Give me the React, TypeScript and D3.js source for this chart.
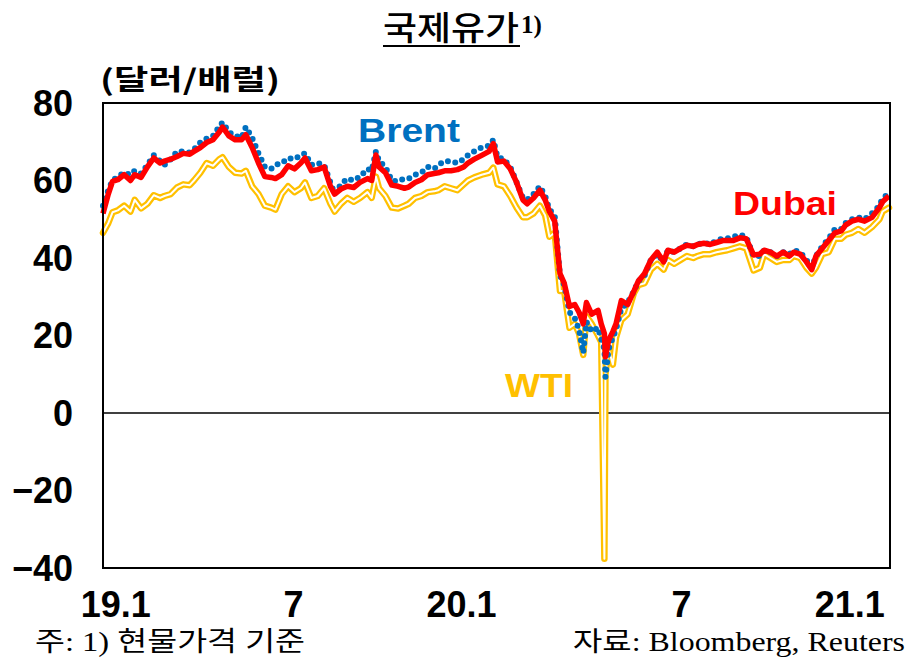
import React from "react";
import * as d3 from "d3";

const dates = [
  "2019-01-02","2019-01-07","2019-01-11","2019-01-16","2019-01-22","2019-01-28","2019-02-01","2019-02-07","2019-02-13","2019-02-19",
  "2019-02-25","2019-03-01","2019-03-07","2019-03-13","2019-03-19","2019-03-25","2019-03-29","2019-04-04","2019-04-10","2019-04-16",
  "2019-04-22","2019-04-25","2019-05-01","2019-05-07","2019-05-13","2019-05-17","2019-05-23","2019-05-29","2019-06-04","2019-06-10",
  "2019-06-14","2019-06-20","2019-06-26","2019-07-02","2019-07-08","2019-07-12","2019-07-18","2019-07-24","2019-07-30","2019-08-05",
  "2019-08-09","2019-08-15","2019-08-21","2019-08-27","2019-09-02","2019-09-09","2019-09-13","2019-09-17","2019-09-20","2019-09-26",
  "2019-10-02","2019-10-08","2019-10-14","2019-10-18","2019-10-24","2019-10-30","2019-11-05","2019-11-11","2019-11-15","2019-11-21",
  "2019-11-27","2019-12-03","2019-12-09","2019-12-13","2019-12-19","2019-12-26","2020-01-02","2020-01-06","2020-01-10","2020-01-16",
  "2020-01-22","2020-01-28","2020-02-03","2020-02-07","2020-02-13","2020-02-19","2020-02-24","2020-02-28","2020-03-04","2020-03-09",
  "2020-03-13","2020-03-18","2020-03-23","2020-03-27","2020-03-31","2020-04-03","2020-04-08","2020-04-14","2020-04-17","2020-04-20",
  "2020-04-21","2020-04-24","2020-04-28","2020-05-01","2020-05-06","2020-05-12","2020-05-18","2020-05-22","2020-05-28","2020-06-03",
  "2020-06-09","2020-06-15","2020-06-19","2020-06-25","2020-07-01","2020-07-07","2020-07-13","2020-07-17","2020-07-23","2020-07-29",
  "2020-08-04","2020-08-10","2020-08-14","2020-08-20","2020-08-26","2020-09-01","2020-09-08","2020-09-14","2020-09-18","2020-09-24",
  "2020-09-30","2020-10-06","2020-10-12","2020-10-16","2020-10-22","2020-10-28","2020-11-02","2020-11-06","2020-11-12","2020-11-18",
  "2020-11-24","2020-11-30","2020-12-04","2020-12-10","2020-12-16","2020-12-22","2020-12-29","2021-01-05","2021-01-08","2021-01-14"
];

const dubai = [
  51.5,56.5,59.8,60.2,61.5,60.0,61.5,60.8,63.5,65.8,
  64.5,65.0,65.5,66.2,67.0,66.8,67.5,68.5,69.8,70.5,
  72.5,73.8,71.5,70.5,70.5,71.8,68.5,64.5,61.0,60.8,
  60.5,61.5,63.8,63.0,64.5,65.8,62.5,62.8,63.5,58.5,
  56.5,57.8,58.5,58.2,59.5,60.5,60.0,66.6,63.5,62.0,
  58.8,58.5,58.0,58.3,59.5,60.2,61.5,61.8,62.0,62.5,
  62.5,62.8,63.5,64.5,65.5,66.5,67.5,69.5,64.8,65.0,
  63.0,59.5,55.0,54.0,55.5,57.5,55.0,52.0,49.5,36.0,
  33.5,27.5,28.0,26.0,23.0,28.5,25.5,26.5,23.0,20.5,
  14.5,18.8,21.0,23.0,29.0,28.0,31.5,34.0,36.0,39.5,
  41.5,39.0,42.0,41.5,42.5,43.3,43.0,43.5,43.8,43.5,
  44.0,44.5,44.5,44.5,45.2,45.0,40.8,41.0,42.0,41.5,
  40.5,41.5,40.5,41.5,41.0,39.0,37.0,40.5,42.5,44.5,
  46.5,47.0,48.5,49.5,50.0,49.5,50.5,53.0,54.5,56.0
];

const brent = [
  53.5,57.5,60.0,61.0,62.0,61.5,62.5,61.8,64.0,66.5,
  65.0,64.0,65.5,67.5,67.5,67.2,68.0,69.8,70.8,71.5,
  74.0,75.0,72.5,71.5,71.0,73.8,71.0,67.0,63.5,63.0,
  64.0,64.5,65.8,65.5,66.5,67.0,64.0,64.5,64.0,59.5,
  56.5,59.0,60.5,60.0,61.0,63.0,62.5,67.5,65.0,63.5,
  60.0,59.8,60.5,60.5,61.5,62.0,63.5,63.0,64.0,65.0,
  65.0,64.5,65.5,66.5,67.5,68.5,69.0,70.5,66.0,65.5,
  63.5,59.5,55.5,55.0,56.5,58.5,56.0,52.5,51.0,35.5,
  33.0,26.0,24.5,21.5,15.5,23.5,21.0,22.0,19.0,16.5,
  9.3,16.5,19.5,21.5,27.0,28.5,31.5,34.0,35.5,39.5,
  41.0,39.0,42.0,41.5,42.5,43.5,43.0,43.5,44.0,43.5,
  44.5,45.0,45.0,45.5,46.0,45.5,40.5,40.5,42.0,41.5,
  40.5,41.5,41.0,42.0,41.5,39.5,37.5,40.5,43.0,45.0,
  47.5,47.5,49.0,50.0,50.5,50.0,51.5,53.5,55.5,56.5
];

const wti = [
  46.5,49.0,51.8,52.3,53.5,52.0,55.0,52.8,54.0,56.2,
  55.5,56.0,56.5,58.2,59.0,58.8,60.0,62.0,64.5,63.8,
  65.5,66.0,63.5,62.0,61.8,62.5,58.5,56.5,53.5,53.0,
  52.5,56.5,58.5,57.0,58.0,59.5,55.5,56.0,58.0,54.0,
  52.0,54.0,55.5,54.5,55.5,57.0,55.5,61.0,58.0,56.0,
  53.0,52.8,53.5,54.0,55.5,56.0,57.0,57.2,57.5,58.5,
  58.0,57.5,59.0,60.0,60.8,61.5,62.0,63.3,59.0,58.5,
  56.0,53.0,50.5,50.5,51.5,53.5,51.0,45.5,46.5,31.5,
  31.5,22.0,23.0,20.5,15.0,25.0,23.0,20.0,18.3,-37.6,
  10.0,16.5,12.5,19.5,24.0,25.5,31.0,33.0,33.5,37.0,
  38.5,37.0,39.5,38.5,39.5,40.5,40.0,40.5,41.0,41.0,
  41.5,41.8,42.0,42.5,43.0,42.5,36.8,37.5,41.0,40.0,
  39.0,39.5,39.5,40.5,40.0,37.5,36.0,37.5,41.0,41.5,
  45.0,45.0,46.0,46.5,47.5,46.5,48.0,50.0,52.0,53.0
];

const yTicks = [80, 60, 40, 20, 0, -20, -40];
const xTickDates = ["2019-01-14", "2019-07-01", "2019-12-07", "2020-07-02", "2020-12-08"];
const xTickLabels = ["19.1", "7", "20.1", "7", "21.1"];

const W = 909;
const H = 664;
const L = 103, R = 890, T = 103, B = 568;

export default function App() {
  const parse = d3.timeParse("%Y-%m-%d");
  const dt = dates.map((d) => parse(d) as Date);
  const x = d3.scaleTime().domain([parse("2019-01-02") as Date, parse("2021-01-15") as Date]).range([L, R]);
  const y = d3.scaleLinear().domain([-40, 80]).range([B, T]);
  const mk = (vals: number[]) =>
    d3.line<number>().x((_, i) => x(dt[i])).y((v) => y(v))(vals) || "";

  const num = "'Liberation Sans', Arial, sans-serif";
  const kr = "'Noto Sans CJK KR', sans-serif";
  const serif = "'Liberation Serif', 'Noto Sans CJK KR', serif";

  return (
    <svg width={W} height={H} style={{ position: "absolute", left: 0, top: 0, background: "#fff" }}>
      {/* title */}
      <text x={383} y={40} fontFamily={kr} fontSize={33} fontWeight={500} textLength={136} lengthAdjust="spacingAndGlyphs" fill="#000">국제유가</text>
      <text x={521} y={33} fontFamily={serif} fontSize={25} fontWeight={700} fill="#000">1)</text>
      <line x1={383} x2={520} y1={46} y2={46} stroke="#000" strokeWidth={2} />

      {/* unit */}
      <text x={100} y={90} fontFamily={kr} fontSize={28} fontWeight={700} textLength={180} lengthAdjust="spacingAndGlyphs" fill="#000">(달러/배럴)</text>

      {/* y ticks */}
      {yTicks.map((t) => (
        <text key={t} x={73} y={y(t)} dy="0.36em" textAnchor="end" fontFamily={num} fontSize={36} fontWeight={700} fill="#000">
          {t < 0 ? "\u2212" + Math.abs(t) : String(t)}
        </text>
      ))}

      {/* x ticks */}
      {xTickDates.map((d, i) => (
        <text key={i} x={x(parse(d) as Date)} y={617} textAnchor="middle" fontFamily={num} fontSize={36} fontWeight={700} fill="#000">
          {xTickLabels[i]}
        </text>
      ))}

      {/* zero line */}
      <line x1={L} x2={R} y1={y(0)} y2={y(0)} stroke="#000" strokeWidth={1.5} />

      {/* series */}
      <path d={mk(wti)} fill="none" stroke="#FFC000" strokeWidth={6.5} strokeLinejoin="round" strokeLinecap="round" />
      <path d={mk(wti)} fill="none" stroke="#fff" strokeWidth={2} strokeLinejoin="round" strokeLinecap="round" />
      <path d={mk(brent)} fill="none" stroke="#0070C0" strokeWidth={6} strokeDasharray="0 7.5" strokeLinecap="round" />
      <path d={mk(dubai)} fill="none" stroke="#FF0000" strokeWidth={5.5} strokeLinejoin="round" />

      {/* frame */}
      <rect x={L} y={T} width={R - L} height={B - T} fill="none" stroke="#000" strokeWidth={2} />

      {/* series labels */}
      <text x={358} y={142} fontFamily={num} fontSize={33} fontWeight={700} fill="#0070C0" textLength={102} lengthAdjust="spacingAndGlyphs">Brent</text>
      <text x={733} y={215} fontFamily={num} fontSize={33} fontWeight={700} fill="#FF0000" textLength={104} lengthAdjust="spacingAndGlyphs">Dubai</text>
      <text x={505} y={397} fontFamily={num} fontSize={33} fontWeight={700} fill="#FFC000" textLength={68} lengthAdjust="spacingAndGlyphs">WTI</text>

      {/* footer */}
      <text x={35} y={651} fontFamily={serif} fontSize={27} fill="#000" textLength={270} lengthAdjust="spacingAndGlyphs">주: 1) 현물가격 기준</text>
      <text x={573} y={651} fontFamily={serif} fontSize={27} fill="#000" textLength={332} lengthAdjust="spacingAndGlyphs">자료: Bloomberg,  Reuters</text>
    </svg>
  );
}
